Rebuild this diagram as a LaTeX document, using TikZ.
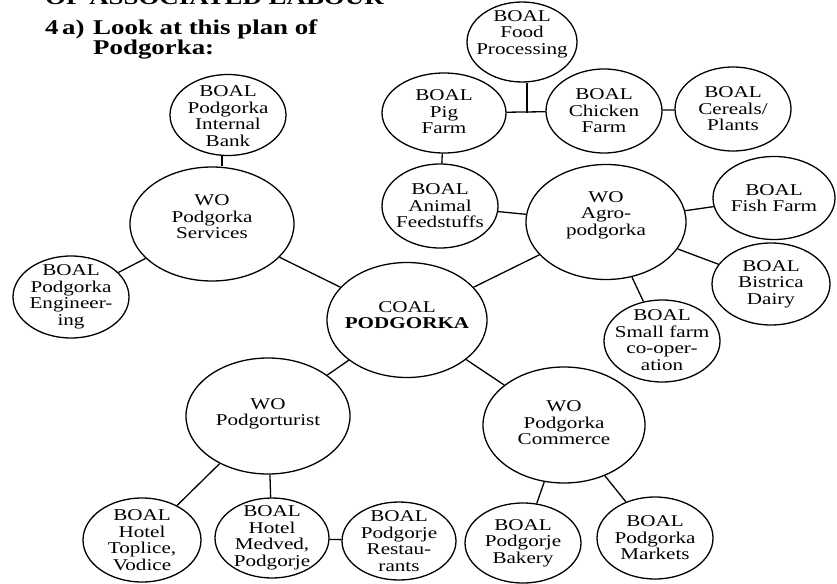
\documentclass[tikz,border=0pt]{standalone}
\usepackage{fontspec}
\setmainfont{Liberation Serif}[FakeStretch=1.28]
\usetikzlibrary{shapes.geometric}
\begin{document}
\begin{tikzpicture}[x=1pt,y=-1pt,
  el/.style={draw, ellipse, line width=1.3pt, inner sep=0pt},
  txt/.style={align=center, inner sep=0pt, font=\fontsize{16.5}{16.5}\selectfont},
  ttl/.style={inner sep=0pt, anchor=base west, font=\fontsize{21}{20}\selectfont\bfseries},
  con/.style={line width=1.3pt}]
\useasboundingbox[fill=white] (0,0) rectangle (837,583);
\begin{scope}
\clip (0,0) rectangle (837,583);
\node[ttl] (head) at (45,5) {OF ASSOCIATED LABOUR};
\end{scope}
\node[ttl] (q) at (45,35) {4\,a)};
\node[ttl] (t1) at (93,35) {Look at this plan of};
\node[ttl] (t2) at (93,55) {Podgorka:};

% ellipses
\node[el, minimum width=116, minimum height=81] (bank) at (228,115) {};
\node[el, minimum width=164, minimum height=114] (serv) at (212,224) {};
\node[el, minimum width=116, minimum height=82] (eng) at (71,297) {};
\node[el, minimum width=160, minimum height=115] (coal) at (407,320) {};
\node[el, minimum width=160, minimum height=115] (agro) at (606,222) {};
\node[el, minimum width=116, minimum height=84] (feed) at (440,206) {};
\node[el, minimum width=124, minimum height=80] (pig) at (444,113) {};
\node[el, minimum width=110, minimum height=80] (food) at (522,42) {};
\node[el, minimum width=116, minimum height=84] (chick) at (604,111) {};
\node[el, minimum width=116, minimum height=84] (cer) at (733,109) {};
\node[el, minimum width=122, minimum height=83] (fish) at (774,198) {};
\node[el, minimum width=118, minimum height=82] (dairy) at (771,284) {};
\node[el, minimum width=116, minimum height=82] (small) at (662,341) {};
\node[el, minimum width=162, minimum height=116] (comm) at (564,425) {};
\node[el, minimum width=116, minimum height=80] (bake) at (523,543) {};
\node[el, minimum width=116, minimum height=82] (mark) at (655,538) {};
\node[el, minimum width=164, minimum height=116] (tour) at (268,416) {};
\node[el, minimum width=118, minimum height=84] (topl) at (142,540) {};
\node[el, minimum width=114, minimum height=80] (medv) at (272,538) {};
\node[el, minimum width=114, minimum height=78] (rest) at (399,541) {};

% texts
\node[txt] (bank-t) at (228,116) {BOAL\\Podgorka\\Internal\\Bank};
\node[txt] (serv-t) at (212,217) {WO\\Podgorka\\Services};
\node[txt] (eng-t) at (71,297) {BOAL\\Podgorka\\Engineer-\\ing};
\node[txt] (coal-t) at (407,315) {COAL\\\textbf{PODGORKA}};
\node[txt] (agro-t) at (606,215) {WO\\Agro-\\podgorka};
\node[txt] (feed-t) at (440,206) {BOAL\\Animal\\Feedstuffs};
\node[txt] (pig-t) at (444,112) {BOAL\\Pig\\Farm};
\node[txt] (food-t) at (522,34) {BOAL\\Food\\Processing};
\node[txt] (chick-t) at (604,111) {BOAL\\Chicken\\Farm};
\node[txt] (cer-t) at (733,109) {BOAL\\Cereals/\\Plants};
\node[txt] (fish-t) at (774,198) {BOAL\\Fish Farm};
\node[txt] (dairy-t) at (771,284) {BOAL\\Bistrica\\Dairy};
\node[txt] (small-t) at (662,340) {BOAL\\Small farm\\co-oper-\\ation};
\node[txt] (comm-t) at (564,423) {WO\\Podgorka\\Commerce};
\node[txt] (bake-t) at (523,543) {BOAL\\Podgorje\\Bakery};
\node[txt] (mark-t) at (655,538) {BOAL\\Podgorka\\Markets};
\node[txt] (tour-t) at (268,414) {WO\\Podgorturist};
\node[txt] (topl-t) at (142,540) {BOAL\\Hotel\\Toplice,\\Vodice};
\node[txt] (medv-t) at (272,538) {BOAL\\Hotel\\Medved,\\Podgorje};
\node[txt] (rest-t) at (399,541) {BOAL\\Podgorje\\Restau-\\rants};

% connectors
\coordinate (bx) at (222,0);
\draw[con] (bank.south -| bx) -- (serv.north -| bx);
\draw[con] (eng) -- (serv);
\draw[con] (serv) -- (coal);
\draw[con] (coal) -- (agro);
\draw[con] (feed) -- (agro);
\draw[con] (pig) -- (feed);
\draw[con] (pig) -- (chick);
\coordinate (tj) at (527,113);
\draw[con] (food.south -| tj) -- (tj);
\draw[con] (chick) -- (cer);
\draw[con] (agro) -- (fish);
\draw[con] (agro) -- (dairy);
\draw[con] (agro) -- (small);
\draw[con] (coal) -- (comm);
\draw[con] (comm) -- (bake);
\draw[con] (comm) -- (mark);
\draw[con] (coal) -- (tour);
\draw[con] (tour) -- (topl);
\draw[con] (tour) -- (medv);
\draw[con] (medv) -- (rest);
\end{tikzpicture}
\end{document}
